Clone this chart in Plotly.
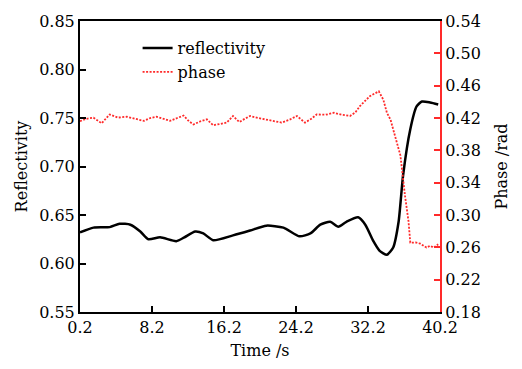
import plotly.graph_objects as go

refl_t = [0.2, 1.7, 3.5, 4.6, 5.8, 6.9, 7.8, 9.1, 10.9, 11.8, 13.0, 13.9, 15.0, 17.2, 19.1,
          20.9, 22.8, 24.6, 25.8, 26.9, 28.0, 28.9, 29.8, 31.1, 31.9, 32.8, 33.5, 34.3, 35.0,
          35.6, 36.1, 36.9, 37.6, 38.2, 39.1, 40.0]
refl_v = [0.632, 0.637, 0.6375, 0.641, 0.640, 0.633, 0.625, 0.627, 0.623, 0.627, 0.633, 0.631,
          0.624, 0.629, 0.634, 0.639, 0.637, 0.628, 0.631, 0.640, 0.643, 0.638, 0.643, 0.6476,
          0.640, 0.623, 0.613, 0.609, 0.6165, 0.643, 0.691, 0.7385, 0.762, 0.767, 0.766, 0.764]

phase_t = [0.2, 0.9, 1.7, 2.6, 3.5, 4.4, 5.4, 6.3, 7.3, 8.0, 8.7, 9.5, 10.2, 11.0, 11.7, 12.3,
           12.8, 13.6, 14.3, 15.0, 15.8, 16.5, 17.2, 17.9, 18.5, 19.1, 20.0, 20.9, 21.8, 22.6,
           23.5, 24.3, 25.2, 25.9, 26.5, 27.5, 28.4, 29.3, 30.2, 30.8, 31.3, 31.9, 32.4, 32.9,
           33.4, 33.9, 34.3, 34.7, 35.0, 35.4, 35.8, 36.3, 36.7, 36.9, 37.5, 38.0, 38.7, 39.1,
           39.5, 40.0]
phase_v = [0.416, 0.419, 0.4204, 0.4135, 0.4244, 0.4205, 0.4216, 0.419, 0.4164, 0.420, 0.4216,
           0.419, 0.4164, 0.420, 0.423, 0.416, 0.412, 0.416, 0.4183, 0.411, 0.413, 0.4143, 0.4225,
           0.415, 0.419, 0.4225, 0.420, 0.4183, 0.416, 0.4143, 0.418, 0.4225, 0.4143, 0.419,
           0.4244, 0.424, 0.4265, 0.424, 0.4225, 0.427, 0.4347, 0.441, 0.447, 0.450, 0.453,
           0.4427, 0.4265, 0.418, 0.4061, 0.392, 0.3737, 0.3248, 0.2923, 0.2658, 0.266, 0.2646,
           0.2597, 0.262, 0.2597, 0.2638]

x_ticks = [0.2, 8.2, 16.2, 24.2, 32.2, 40.2]
y1_ticks = [0.55, 0.60, 0.65, 0.70, 0.75, 0.80, 0.85]
y2_ticks = [0.18, 0.22, 0.26, 0.30, 0.34, 0.38, 0.42, 0.46, 0.50, 0.54]

FONT = "DejaVu Serif"
RED = "#ff2a2a"
TF = dict(family=FONT, size=16, color="black")

fig = go.Figure()
fig.add_trace(go.Scatter(x=refl_t, y=refl_v, mode="lines", name="reflectivity",
                         line=dict(color="black", width=2.5, shape="spline", smoothing=0.6)))
fig.add_trace(go.Scatter(x=phase_t, y=phase_v, mode="lines", name="phase", yaxis="y2",
                         line=dict(color=RED, width=1.8, dash="2px,1.5px")))

fig.update_layout(
    width=522, height=369,
    margin=dict(l=80, r=82, t=17, b=57),
    plot_bgcolor="white", paper_bgcolor="white",
    font=dict(family=FONT, size=16, color="black"),
    showlegend=True,
    legend=dict(x=0.16, y=0.965, xanchor="left", yanchor="top",
                bgcolor="rgba(0,0,0,0)", font=TF,
                itemwidth=30, tracegroupgap=0),
    xaxis=dict(range=[0.2, 40.2], tickvals=x_ticks, ticktext=[str(v) for v in x_ticks],
               ticks="inside", ticklen=6, tickwidth=2, tickcolor="black", tickfont=TF,
               showline=True, linewidth=2, linecolor="black", mirror=True,
               showgrid=False, zeroline=False,
               title=dict(text="Time /s", font=TF, standoff=9)),
    yaxis=dict(range=[0.55, 0.85], tickvals=y1_ticks, ticktext=[f"{v:.2f}" for v in y1_ticks],
               ticks="inside", ticklen=6, tickwidth=2, tickcolor="black", tickfont=TF,
               showline=True, linewidth=2, linecolor="black",
               showgrid=False, zeroline=False,
               title=dict(text="Reflectivity", font=TF, standoff=8)),
    yaxis2=dict(range=[0.18, 0.54], tickvals=y2_ticks, ticktext=[f"{v:.2f}" for v in y2_ticks],
                overlaying="y", side="right",
                ticks="inside", ticklen=6, tickwidth=2, tickcolor=RED, tickfont=TF,
                showline=True, linewidth=2, linecolor=RED,
                showgrid=False, zeroline=False,
                title=dict(text="Phase /rad", font=TF, standoff=16)),
)

fig.write_html("out.html")
